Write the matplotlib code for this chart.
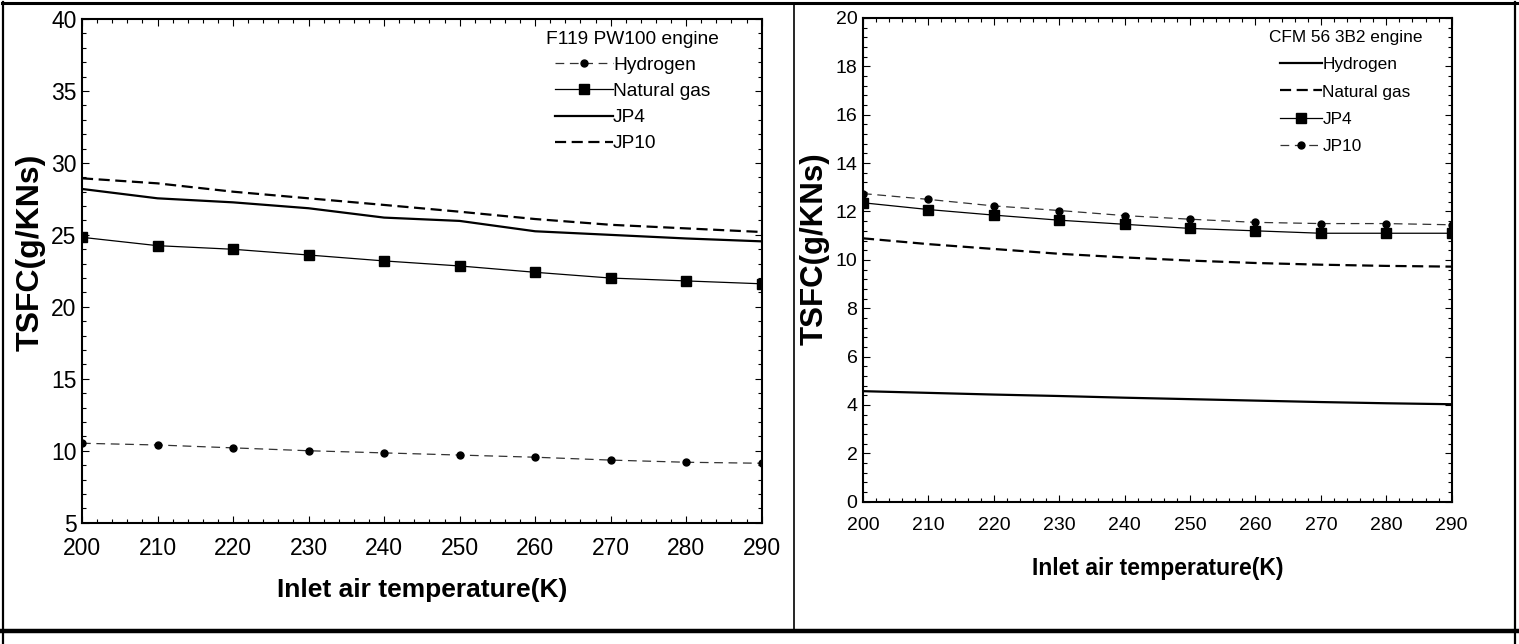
import matplotlib
matplotlib.use('Agg')
import matplotlib.pyplot as plt
from matplotlib.lines import Line2D
from matplotlib.ticker import MultipleLocator

plt.rcParams['font.family'] = ['Liberation Sans', 'DejaVu Sans']

# ---- data ----------------------------------------------------------------
temp = [200, 210, 220, 230, 240, 250, 260, 270, 280, 290]

# F119 PW100 engine
f119_hydrogen = [10.52, 10.4, 10.2, 10.0, 9.85, 9.7, 9.55, 9.35, 9.2, 9.13]
f119_natgas = [24.83, 24.25, 24.0, 23.6, 23.19, 22.84, 22.4, 22.0, 21.8, 21.6]
f119_jp4 = [28.19, 27.54, 27.26, 26.85, 26.2, 25.97, 25.25, 25.0, 24.75, 24.55]
f119_jp10 = [28.93, 28.58, 28.0, 27.54, 27.08, 26.61, 26.1, 25.7, 25.45, 25.2]

# CFM 56 3B2 engine
cfm_hydrogen = [4.57, 4.5, 4.43, 4.37, 4.3, 4.24, 4.18, 4.12, 4.07, 4.03]
cfm_natgas = [10.89, 10.65, 10.45, 10.25, 10.1, 9.97, 9.87, 9.8, 9.75, 9.72]
cfm_jp4 = [12.36, 12.08, 11.85, 11.64, 11.47, 11.3, 11.2, 11.1, 11.1, 11.1]
cfm_jp10 = [12.74, 12.5, 12.23, 12.04, 11.83, 11.68, 11.55, 11.5, 11.5, 11.45]

W, H = 1519, 644
fig = plt.figure(figsize=(W / 100, H / 100), dpi=100)


def style_axes(ax, ymaj, ymin, tick_fs, pad_x):
    ax.set_xlim(200, 290)
    ax.xaxis.set_major_locator(MultipleLocator(10))
    ax.xaxis.set_minor_locator(MultipleLocator(2))
    ax.yaxis.set_major_locator(MultipleLocator(ymaj))
    ax.yaxis.set_minor_locator(MultipleLocator(ymin))
    ax.tick_params(which='both', direction='in', top=True, right=True, width=0.8)
    ax.tick_params(which='major', length=5)
    ax.tick_params(which='minor', length=3)
    ax.tick_params(axis='y', labelsize=tick_fs, pad=4)
    ax.tick_params(axis='x', labelsize=tick_fs, pad=pad_x)
    for s in ax.spines.values():
        s.set_linewidth(1.5)


# ---- left chart ------------------------------------------------------------
ax1 = fig.add_axes([82 / W, 1 - 522.7 / H, 679.7 / W, 503.7 / H])
ax1.plot(temp, f119_hydrogen, color='#333333', lw=0.9, ls=(0, (7, 4.5)),
         marker='o', ms=5, mfc='black', mec='black', label='Hydrogen')
ax1.plot(temp, f119_natgas, color='black', lw=0.9, marker='s', ms=6.5,
         label='Natural gas')
ax1.plot(temp, f119_jp4, color='black', lw=1.6, label='JP4')
ax1.plot(temp, f119_jp10, color='black', lw=1.6, ls=(0, (5, 2.5)), label='JP10')
ax1.set_ylim(5, 40)
style_axes(ax1, 5, 1, 16.5, 10.5)
ax1.set_xlabel('Inlet air temperature(K)', fontsize=19, fontweight='bold')
ax1.xaxis.set_label_coords(0.5, -0.11)
ax1.set_ylabel('TSFC(g/KNs)', fontsize=23, fontweight='bold')
ax1.yaxis.set_label_coords(-0.054, 0.537)
ax1.legend(loc='upper right', bbox_to_anchor=(0.937, 0.976), frameon=False,
           title='F119 PW100 engine', fontsize=13.8, title_fontsize=13.8,
           handlelength=3.05, handletextpad=0.0, labelspacing=0.45,
           borderpad=0.0, borderaxespad=0.0)

# ---- right chart -----------------------------------------------------------
ax2 = fig.add_axes([863 / W, 1 - 501.7 / H, 588.7 / W, 483.7 / H])
ax2.plot(temp, cfm_hydrogen, color='black', lw=1.6, label='Hydrogen')
ax2.plot(temp, cfm_natgas, color='black', lw=1.6, ls=(0, (5, 2.5)),
         label='Natural gas')
ax2.plot(temp, cfm_jp4, color='black', lw=0.9, marker='s', ms=6.5,
         label='JP4')
ax2.plot(temp, cfm_jp10, color='#333333', lw=0.9, ls=(0, (7, 4.5)),
         marker='o', ms=5, mfc='black', mec='black', label='JP10')
ax2.set_ylim(0, 20)
style_axes(ax2, 2, 0.4, 14, 11)
ax2.set_xlabel('Inlet air temperature(K)', fontsize=16.5, fontweight='bold')
ax2.xaxis.set_label_coords(0.5, -0.114)
ax2.set_ylabel('TSFC(g/KNs)', fontsize=22.5, fontweight='bold')
ax2.yaxis.set_label_coords(-0.056, 0.524)
ax2.legend(loc='upper right', bbox_to_anchor=(0.9496, 0.976), frameon=False,
           title='CFM 56 3B2 engine', fontsize=12.4, title_fontsize=12.4,
           handlelength=2.45, handletextpad=0.0, labelspacing=0.72,
           borderpad=0.0, borderaxespad=0.0)

# ---- table frame around the two panels ------------------------------------
def hline(y, x0, x1, lw):
    fig.add_artist(Line2D([x0 / W, x1 / W], [1 - y / H, 1 - y / H],
                          color='black', lw=lw, transform=fig.transFigure))


def vline(x, y0, y1, lw):
    fig.add_artist(Line2D([x / W, x / W], [1 - y0 / H, 1 - y1 / H],
                          color='black', lw=lw, transform=fig.transFigure))


hline(3, 2, 1517, 2.2)
hline(631, 2, 1517, 3.2)
vline(3, 2, 644, 1.6)
vline(1515, 2, 644, 1.6)
vline(794, 3, 631, 1.2)

fig.savefig('out.png', dpi=100, facecolor='white')
